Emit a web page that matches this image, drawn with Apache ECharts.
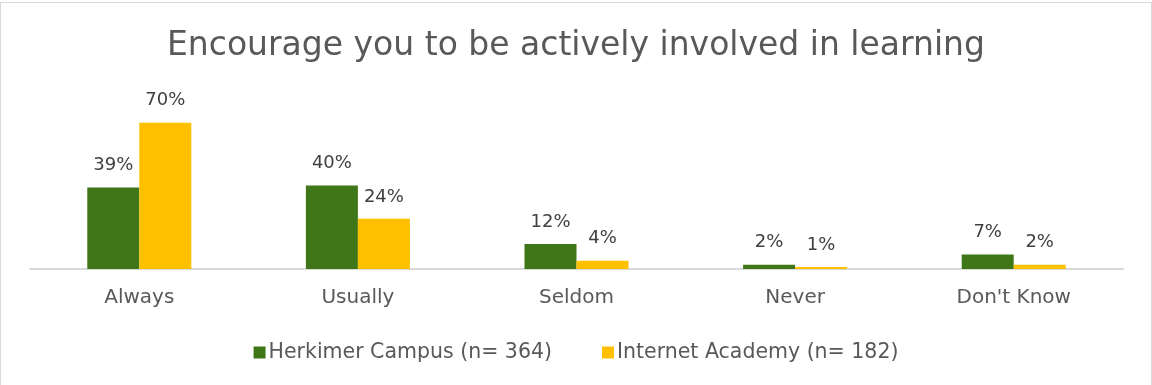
<!DOCTYPE html>
<html><head><meta charset="utf-8">
<script src="https://cdn.jsdelivr.net/npm/echarts@6/dist/echarts.min.js"></script>
<style>html,body{margin:0;padding:0;background:#fff}#c{width:1152px;height:385px;box-sizing:border-box;border:1px solid #d9d9d9;margin-top:2px}</style>
</head><body><div id="c"></div>
<script>
const categories = ["Always", "Usually", "Seldom", "Never", "Don't Know"];
const herkimer = [39, 40, 12, 2, 7];
const internet = [70, 24, 4, 1, 2];
const seriesNames = ["Herkimer Campus (n= 364)", "Internet Academy (n= 182)"];
const titleText = "Encourage you to be actively involved in learning";
const FONT = "DejaVu Sans, sans-serif";
const chart = echarts.init(document.getElementById('c'), null, {renderer: 'canvas'});
const lbl = {show: true, position: 'top', formatter: '{c}%', color: '#404040', fontSize: 18, fontFamily: FONT, distance: 13};
chart.setOption({
  animation: false,
  title: {text: titleText, left: 'center', top: 22, textStyle: {fontSize: 33, fontWeight: 'normal', color: '#595959', fontFamily: FONT}},
  legend: {top: 334, left: 'center', itemWidth: 12, itemHeight: 12, itemGap: 50, icon: 'rect',
    textStyle: {fontSize: 20.5, color: '#595959', fontFamily: FONT, padding: [0,0,0,-2]}},
  grid: {left: 29, right: 28, top: 78, bottom: 117, containLabel: false},
  xAxis: {type: 'category', data: categories, axisTick: {show: false},
    axisLine: {lineStyle: {color: '#d9d9d9', width: 2}},
    axisLabel: {fontSize: 20, color: '#595959', fontFamily: FONT, margin: 19}},
  yAxis: {type: 'value', min: 0, max: 90, show: false, splitLine: {show: false}},
  series: [
    {name: seriesNames[0], type: 'bar', data: herkimer, barWidth: 52, barGap: '0%', itemStyle: {color: '#3f7618'}, label: lbl},
    {name: seriesNames[1], type: 'bar', data: internet, barWidth: 52, barGap: '0%', itemStyle: {color: '#ffc000'}, label: lbl}
  ]
});
</script></body></html>
